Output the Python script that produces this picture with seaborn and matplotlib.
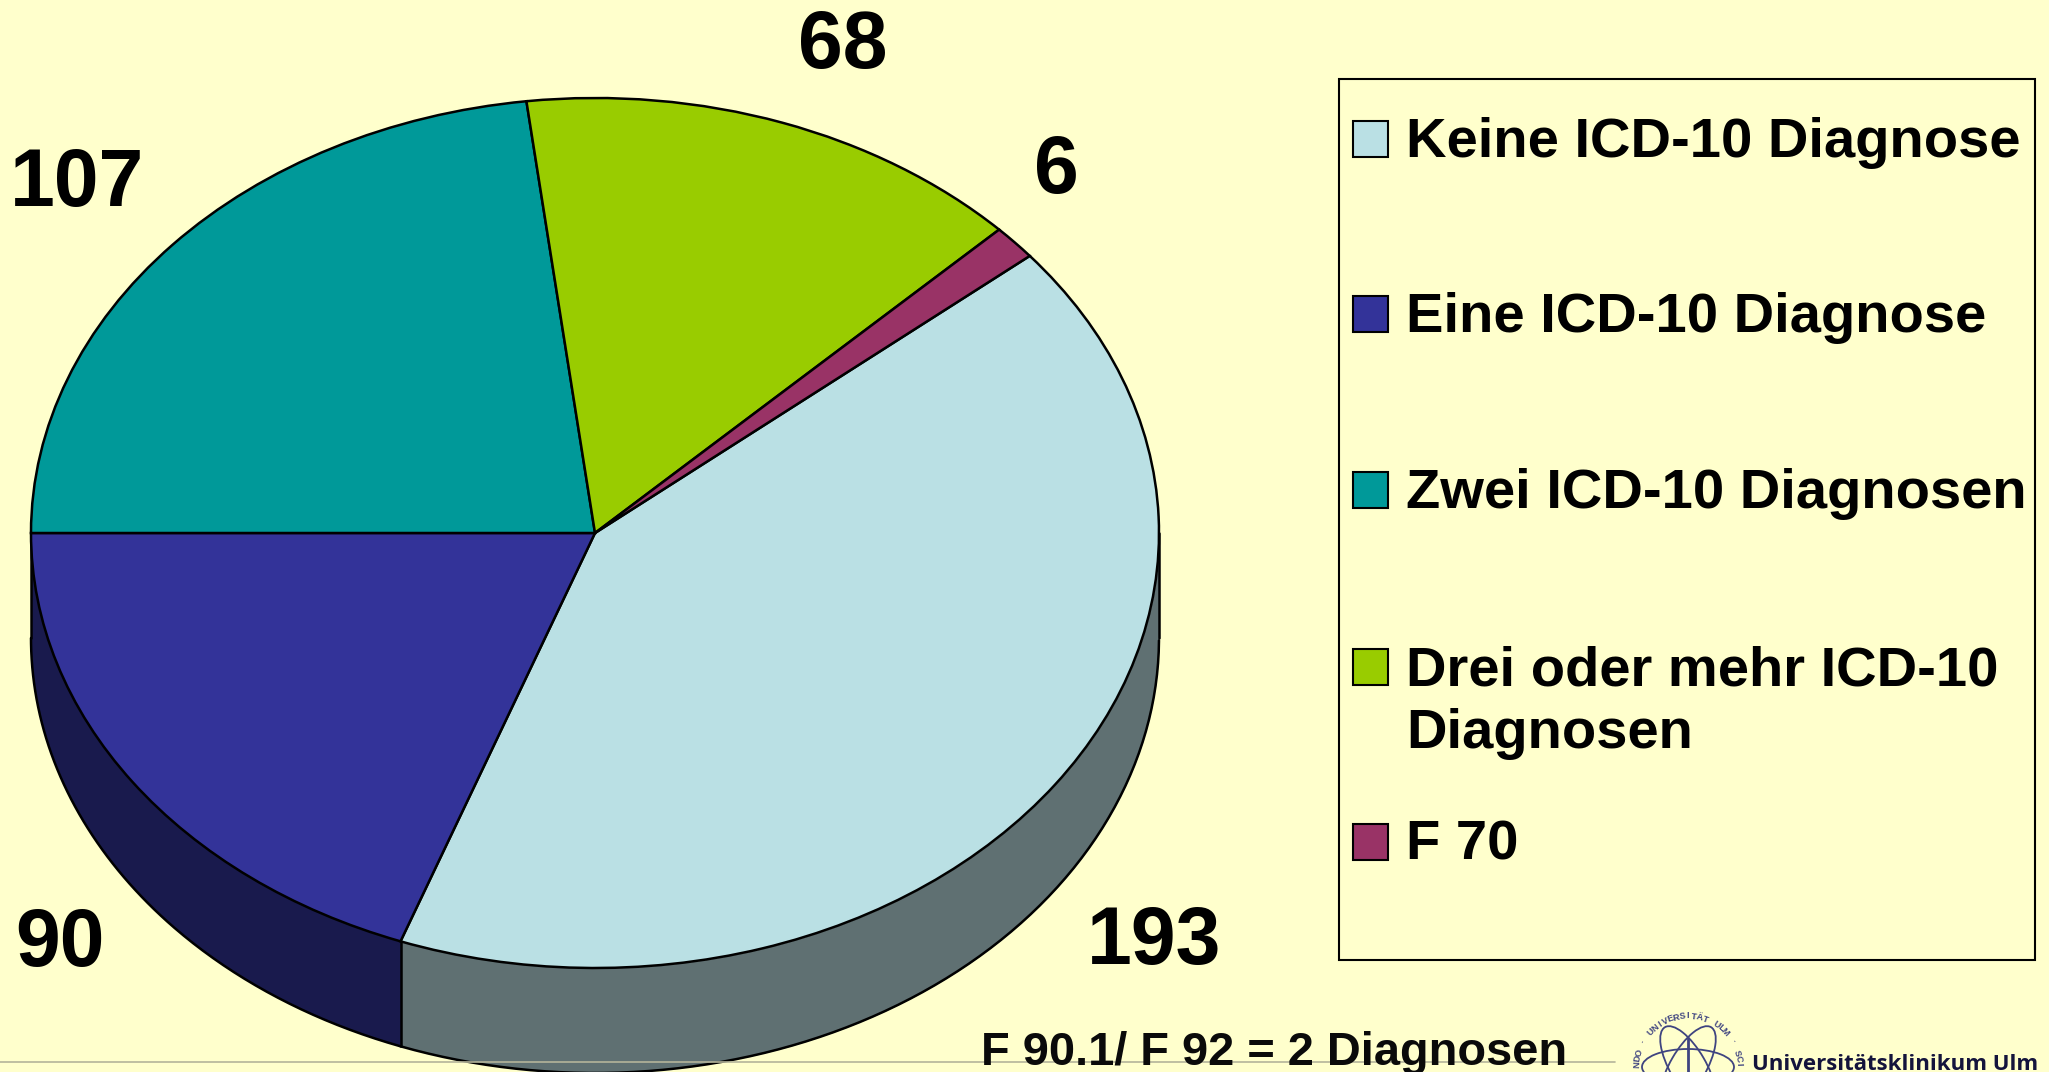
import numpy as np
import matplotlib
matplotlib.use('Agg')
import matplotlib.pyplot as plt
from matplotlib.patches import Rectangle, Ellipse
from matplotlib.transforms import IdentityTransform
import seaborn as sns

# values
categories = ['Keine ICD-10 Diagnose', 'Eine ICD-10 Diagnose', 'Zwei ICD-10 Diagnosen',
              'Drei oder mehr ICD-10\nDiagnosen', 'F 70']
counts = [193, 90, 107, 68, 6]
top_colors = ['#BAE0E4', '#333399', '#009999', '#99CC00', '#993366']
side_colors = ['#5F7072', '#191A4D', '#004C4C', '#4C6600', '#4C1933']
footnote = 'F 90.1/ F 92 = 2 Diagnosen'
clinic = 'Universitätsklinikum Ulm'
seal_text = 'NDO · UNIVERSITÄT ULM · SCI'

W, H = 2049, 1072
BG = '#FFFFCC'
cx, cy, rx, ry, depth = 595, 533, 564, 435, 105
start = 39.57

sns.set_theme(style='white')
plt.rcParams['font.family'] = ['Liberation Sans', 'DejaVu Sans']
plt.rcParams['font.weight'] = 'bold'
palette = sns.color_palette(top_colors)

fig = plt.figure(figsize=(W / 100, H / 100), dpi=100, facecolor=BG)
ax = fig.add_axes([0, 0, 1, 1])

# side wall under the top face, only the front half shows
angles = start - np.cumsum([0] + counts) / sum(counts) * 360
dy = depth / ry
for i in range(len(counts)):
    t = np.radians(np.linspace(angles[i], angles[i + 1], 200))
    t = t[np.sin(t) <= 0]
    if len(t) == 0:
        continue
    ax.fill_between(np.cos(t), np.sin(t), np.sin(t) - dy, color=side_colors[i], lw=0, zorder=1)
    ax.plot(np.cos(t), np.sin(t) - dy, color='black', lw=1.8, zorder=2)
ax.plot([1, 1], [0, -dy], color='black', lw=1.8, zorder=2)
ax.plot([-1, -1], [0, -dy], color='black', lw=1.8, zorder=2)
seam = np.radians(angles[1])
ax.plot([np.cos(seam)] * 2, [np.sin(seam), np.sin(seam) - dy], color='black', lw=1.8, zorder=2)

wedges, _ = ax.pie(counts, colors=palette, startangle=start, counterclock=False, radius=1,
                   wedgeprops={'edgecolor': 'black', 'linewidth': 1.8, 'zorder': 3})
ax.set_aspect('auto')
ax.set_xlim(-cx / rx, (W - cx) / rx)
ax.set_ylim(-(H - cy) / ry, cy / ry)
ax.axis('off')


def px(x, y):
    return x / W, 1 - y / H


# value labels
label_pos = [(1154, 943), (60, 945), (77, 185), (843, 47), (1056, 172)]
for v, (x, y) in zip(counts, label_pos):
    fig.text(*px(x, y), str(v), fontsize=58, ha='center', va='center', color='black')

# legend box
fig.add_artist(Rectangle(px(1339, 960), 696 / W, 881 / H, transform=fig.transFigure,
                         fc='none', ec='black', lw=1.5))
rows = [139, 314, 490, 667, 842]
for lab, c, y in zip(categories, palette, rows):
    fig.add_artist(Rectangle(px(1353, y + 18), 35 / W, 36 / H, transform=fig.transFigure,
                             fc=c, ec='black', lw=1.5))
    fig.text(*px(1406, y - 22), lab, fontsize=40.4, ha='left', va='top', color='black',
             linespacing=1.27)

# footer rule, note and logo
fig.add_artist(plt.Line2D([0, 1615 / W], [1 - 1062 / H] * 2, color='#B4B49A', lw=1.2))
fig.text(*px(981, 1065), footnote, fontsize=33.8, ha='left', va='baseline', color='#0A0A0A')
fig.text(*px(1752, 1070), clinic, fontsize=16, family=['Open Sans', 'DejaVu Sans'],
         ha='left', va='baseline', color='#14143C')

sx, sy = 1688, 1067
seal = '#3F4480'
for ang in (0, 60, 120):
    fig.add_artist(Ellipse((sx, H - sy), 92, 36, angle=ang, transform=IdentityTransform(),
                           fc='none', ec=seal, lw=1.3))
fig.add_artist(plt.Line2D([sx / W] * 2, [0, 1 - 1038 / H], color=seal, lw=2))
n = len(seal_text)
for k, ch in enumerate(seal_text):
    a = np.radians(90 + (n / 2 - k - 0.5) * 6.7)
    fig.text((sx + 51 * np.cos(a)) / W, 1 - (sy - 51 * np.sin(a)) / H, ch, fontsize=6.5,
             rotation=np.degrees(a) - 90, rotation_mode='anchor', ha='center', va='center', color=seal)

fig.savefig('out.png', dpi=100, facecolor=BG)
